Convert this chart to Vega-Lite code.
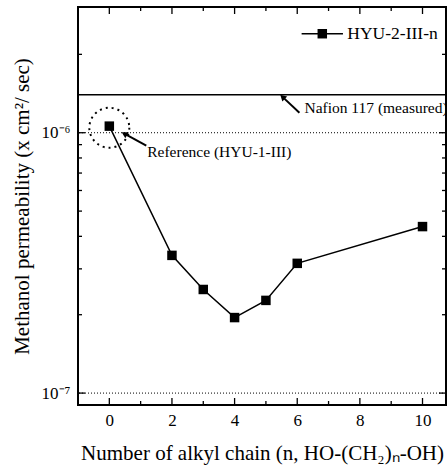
{
  "$schema": "https://vega.github.io/schema/vega-lite/v6.json",
  "width": 368,
  "height": 398,
  "autosize": {"type": "none"},
  "padding": {"left": 78, "top": 7, "right": 1, "bottom": 65},
  "config": {
    "font": "Liberation Serif",
    "view": {"stroke": "black", "strokeWidth": 2},
    "axis": {"grid": false, "domain": false, "labelColor": "black", "titleColor": "black", "labelFont": "Liberation Serif", "titleFont": "Liberation Serif", "titleFontWeight": "normal"}
  },
  "datasets": {
    "main": [
      {"n": 0, "p": 1.06e-6},
      {"n": 2, "p": 3.38e-7},
      {"n": 3, "p": 2.5e-7},
      {"n": 4, "p": 1.95e-7},
      {"n": 5, "p": 2.27e-7},
      {"n": 6, "p": 3.15e-7},
      {"n": 10, "p": 4.36e-7}
    ],
    "xmajor": [{"t": 0}, {"t": 2}, {"t": 4}, {"t": 6}, {"t": 8}, {"t": 10}],
    "xminor": [{"t": 1}, {"t": 3}, {"t": 5}, {"t": 7}, {"t": 9}],
    "ymajor": [{"t": 1e-7}, {"t": 1e-6}],
    "yminor": [{"t": 2e-7}, {"t": 3e-7}, {"t": 4e-7}, {"t": 5e-7}, {"t": 6e-7}, {"t": 7e-7}, {"t": 8e-7}, {"t": 9e-7}, {"t": 2e-6}],
    "legendline": [{"lx": 6.14, "ly": 2.4e-6}, {"lx": 7.46, "ly": 2.4e-6}],
    "legendpt": [{"lx": 6.8, "ly": 2.4e-6, "label": "HYU-2-III-n", "tx": 7.6}],
    "grid": [{"g": 1e-7}, {"g": 1e-6}],
    "nafion": [{"v": 1.4e-6}],
    "circle": [{"n": 0, "p": 1.045e-6}],
    "arrows": [
      {"x1": 6.07, "y1": 1.193e-6, "x2": 5.53, "y2": 1.373e-6, "ang": 313},
      {"x1": 1.18, "y1": 0.892e-6, "x2": 0.48, "y2": 0.991e-6, "ang": 299}
    ],
    "labels": [
      {"tx": 6.23, "ty": 1.247e-6, "label": "Nafion 117 (measured)"},
      {"tx": 1.21, "ty": 0.846e-6, "label": "Reference (HYU-1-III)"}
    ]
  },
  "layer": [
    {
      "data": {"name": "main"},
      "mark": {"type": "line", "strokeWidth": 1.5, "color": "black"},
      "encoding": {
        "x": {"field": "n", "type": "quantitative", "scale": {"domain": [-1, 10.75], "nice": false, "zero": false},
          "axis": {"orient": "bottom", "ticks": false, "title": "Number of alkyl chain (n, HO-(CH₂)ₙ-OH)", "titleFontSize": 21, "titleBaseline": "middle", "titleY": 48,
            "values": [0, 2, 4, 6, 8, 10],
            "labelFontSize": 17, "labelPadding": 7}},
        "y": {"field": "p", "type": "quantitative", "scale": {"type": "log", "domain": [9e-8, 3.04e-6], "nice": false},
          "axis": {"orient": "left", "ticks": false, "title": "Methanol permeability (x cm²/ sec)", "titleFontSize": 21, "titleBaseline": "middle", "titleX": -56,
            "values": [1e-7, 1e-6],
            "labelExpr": "datum.value < 5e-7 ? '10⁻⁷' : '10⁻⁶'",
            "labelFontSize": 17, "labelPadding": 8}}
      }
    },
    {
      "data": {"name": "grid"},
      "mark": {"type": "rule", "color": "black", "strokeWidth": 1, "strokeDash": [1, 2]},
      "encoding": {
        "y": {"field": "g", "type": "quantitative"}
      }
    },
    {
      "data": {"name": "nafion"},
      "mark": {"type": "rule", "color": "black", "strokeWidth": 1.5},
      "encoding": {
        "y": {"field": "v", "type": "quantitative"}
      }
    },
    {
      "data": {"name": "main"},
      "mark": {"type": "point", "shape": "square", "filled": true, "size": 90, "color": "black", "opacity": 1},
      "encoding": {
        "x": {"field": "n", "type": "quantitative"},
        "y": {"field": "p", "type": "quantitative"}
      }
    },
    {
      "data": {"name": "circle"},
      "mark": {"type": "point", "shape": "circle", "filled": false, "size": 1600, "color": "black", "strokeWidth": 2, "strokeDash": [2, 4], "opacity": 1},
      "encoding": {
        "x": {"field": "n", "type": "quantitative"},
        "y": {"field": "p", "type": "quantitative"}
      }
    },
    {
      "data": {"name": "arrows"},
      "mark": {"type": "rule", "color": "black", "strokeWidth": 2},
      "encoding": {
        "x": {"field": "x1", "type": "quantitative"},
        "y": {"field": "y1", "type": "quantitative"},
        "x2": {"field": "x2"},
        "y2": {"field": "y2"}
      }
    },
    {
      "data": {"name": "arrows"},
      "mark": {"type": "point", "shape": "triangle-up", "filled": true, "size": 50, "color": "black", "opacity": 1},
      "encoding": {
        "x": {"field": "x2", "type": "quantitative"},
        "y": {"field": "y2", "type": "quantitative"},
        "angle": {"field": "ang", "type": "quantitative", "scale": null}
      }
    },
    {
      "data": {"name": "labels"},
      "mark": {"type": "text", "align": "left", "baseline": "middle", "fontSize": 15.5, "font": "Liberation Serif", "color": "black"},
      "encoding": {
        "x": {"field": "tx", "type": "quantitative"},
        "y": {"field": "ty", "type": "quantitative"},
        "text": {"field": "label"}
      }
    },
    {
      "data": {"name": "legendline"},
      "mark": {"type": "line", "color": "black", "strokeWidth": 1.5},
      "encoding": {
        "x": {"field": "lx", "type": "quantitative"},
        "y": {"field": "ly", "type": "quantitative"}
      }
    },
    {
      "data": {"name": "legendpt"},
      "mark": {"type": "point", "shape": "square", "filled": true, "size": 90, "color": "black", "opacity": 1},
      "encoding": {
        "x": {"field": "lx", "type": "quantitative"},
        "y": {"field": "ly", "type": "quantitative"}
      }
    },
    {
      "data": {"name": "legendpt"},
      "mark": {"type": "text", "align": "left", "baseline": "middle", "fontSize": 17.5, "font": "Liberation Serif", "color": "black"},
      "encoding": {
        "x": {"field": "tx", "type": "quantitative"},
        "y": {"field": "ly", "type": "quantitative"},
        "text": {"field": "label"}
      }
    },
    {
      "data": {"name": "xmajor"},
      "mark": {"type": "tick", "orient": "vertical", "size": 7, "thickness": 1.3, "color": "black", "opacity": 1, "yOffset": -3.5},
      "encoding": {"x": {"field": "t", "type": "quantitative"}, "y": {"datum": 9e-8}}
    },
    {
      "data": {"name": "xmajor"},
      "mark": {"type": "tick", "orient": "vertical", "size": 7, "thickness": 1.3, "color": "black", "opacity": 1, "yOffset": 3.5},
      "encoding": {"x": {"field": "t", "type": "quantitative"}, "y": {"datum": 3.04e-6}}
    },
    {
      "data": {"name": "xminor"},
      "mark": {"type": "tick", "orient": "vertical", "size": 4, "thickness": 1.3, "color": "black", "opacity": 1, "yOffset": -2},
      "encoding": {"x": {"field": "t", "type": "quantitative"}, "y": {"datum": 9e-8}}
    },
    {
      "data": {"name": "xminor"},
      "mark": {"type": "tick", "orient": "vertical", "size": 4, "thickness": 1.3, "color": "black", "opacity": 1, "yOffset": 2},
      "encoding": {"x": {"field": "t", "type": "quantitative"}, "y": {"datum": 3.04e-6}}
    },
    {
      "data": {"name": "ymajor"},
      "mark": {"type": "tick", "orient": "horizontal", "size": 7, "thickness": 1.3, "color": "black", "opacity": 1, "xOffset": 3.5},
      "encoding": {"y": {"field": "t", "type": "quantitative"}, "x": {"datum": -1}}
    },
    {
      "data": {"name": "ymajor"},
      "mark": {"type": "tick", "orient": "horizontal", "size": 7, "thickness": 1.3, "color": "black", "opacity": 1, "xOffset": -3.5},
      "encoding": {"y": {"field": "t", "type": "quantitative"}, "x": {"datum": 10.75}}
    },
    {
      "data": {"name": "yminor"},
      "mark": {"type": "tick", "orient": "horizontal", "size": 4, "thickness": 1.3, "color": "black", "opacity": 1, "xOffset": 2},
      "encoding": {"y": {"field": "t", "type": "quantitative"}, "x": {"datum": -1}}
    },
    {
      "data": {"name": "yminor"},
      "mark": {"type": "tick", "orient": "horizontal", "size": 4, "thickness": 1.3, "color": "black", "opacity": 1, "xOffset": -2},
      "encoding": {"y": {"field": "t", "type": "quantitative"}, "x": {"datum": 10.75}}
    }
  ]
}
